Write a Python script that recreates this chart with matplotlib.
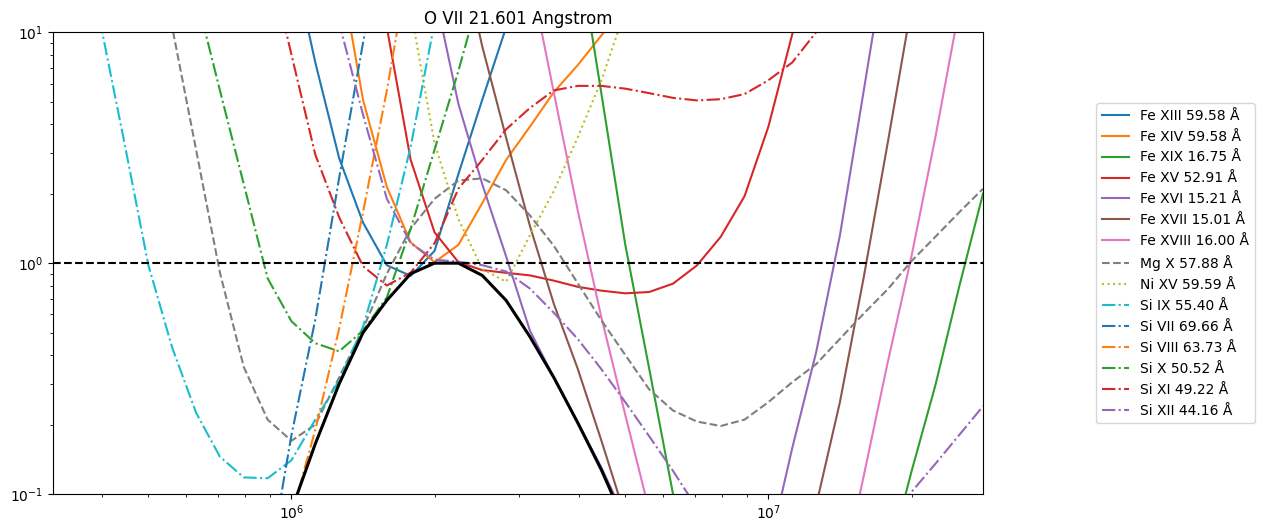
import numpy as np
import matplotlib
matplotlib.use("Agg")
import matplotlib.pyplot as plt

nan = np.nan

# log10 temperature grid
log_t = [5.50, 5.55, 5.60, 5.65, 5.70, 5.75, 5.80, 5.85, 5.90, 5.95,
         6.00, 6.05, 6.10, 6.15, 6.20, 6.25, 6.30, 6.35, 6.40, 6.45,
         6.50, 6.55, 6.60, 6.65, 6.70, 6.75, 6.80, 6.85, 6.90, 6.95,
         7.00, 7.05, 7.10, 7.15, 7.20, 7.25, 7.30, 7.35, 7.40, 7.45]

labels = ["Fe XIII 59.58 Å", "Fe XIV 59.58 Å", "Fe XIX 16.75 Å", "Fe XV 52.91 Å",
          "Fe XVI 15.21 Å", "Fe XVII 15.01 Å", "Fe XVIII 16.00 Å", "Mg X 57.88 Å",
          "Ni XV 59.59 Å", "Si IX 55.40 Å", "Si VII 69.66 Å", "Si VIII 63.73 Å",
          "Si X 50.52 Å", "Si XI 49.22 Å", "Si XII 44.16 Å"]

fe13 = [nan]*10 + [22, 7.4, 2.85, 1.5, 0.98, 0.88, 1.13, 2.43, 5.1, 10.5, 22] + [nan]*19
fe14 = [nan]*12 + [20, 5.1, 2.14, 1.23, 1.01, 1.2, 1.82, 2.8, 3.9, 5.5, 7.2, 9.7, 13] + [nan]*15
fe19 = [nan]*22 + [24, 5.4, 1.2, 0.35, 0.1, 0.03] + [nan]*7 + [0.05, 0.125, 0.295, 0.79, 2.0]
fe15 = [nan]*13 + [32, 10.5, 2.8, 1.36, 1.01, 0.933, 0.908, 0.885, 0.84, 0.79, 0.76, 0.74,
                   0.75, 0.815, 0.977, 1.3, 1.95, 3.9, 9.8, 25] + [nan]*7
fe16 = [nan]*16 + [15, 4.9, 2.2, 1.07, 0.51, 0.32, 0.205, 0.13, 0.078] + [nan]*5 + \
       [0.056, 0.158, 0.41, 1.32, 5.6, 24] + [nan]*4
fe17 = [nan]*17 + [25, 8.7, 3.5, 1.45, 0.667, 0.35, 0.17, 0.08] + [nan]*7 + \
       [0.089, 0.25, 0.87, 3.3, 13] + [nan]*3
fe18 = [nan]*20 + [18, 5.5, 1.7, 0.58, 0.22, 0.085] + [nan]*7 + \
       [0.04, 0.12, 0.37, 1.07, 3.5, 12.6, nan]
mg10 = [nan]*4 + [35, 10.5, 3.1, 0.91, 0.355, 0.21, 0.17, 0.2, 0.32, 0.52, 0.9, 1.41, 1.9,
                  2.28, 2.33, 2.07, 1.61, 1.19, 0.82, 0.565, 0.40, 0.284, 0.23, 0.206, 0.197,
                  0.21, 0.25, 0.305, 0.365, 0.47, 0.605, 0.77, 1.02, 1.3, 1.66, 2.1]
ni15 = [nan]*14 + [40, 12.5, 3.3, 1.55, 0.945, 0.83, 1.32, 2.05, 3.5, 6.2, 12.5] + [nan]*15
si9 = [nan, 30, 10.8, 3.3, 0.98, 0.43, 0.225, 0.145, 0.118, 0.117, 0.14, 0.21, 0.31, 0.53,
       1.2, 3.2, 11, 40] + [nan]*22
si7 = [nan]*9 + [0.045, 0.18, 0.57, 2.34, 9.0, 30] + [nan]*25
si8 = [nan]*9 + [0.02, 0.08, 0.19, 0.52, 1.66, 5.6, 22] + [nan]*24
si10 = [nan]*5 + [40, 14.5, 5.6, 2.2, 0.86, 0.56, 0.45, 0.415, 0.51, 0.71, 1.41, 3.1, 6.8, 16] + [nan]*21
si11 = [nan]*9 + [22, 8.0, 2.95, 1.58, 0.97, 0.80, 0.91, 1.22, 2.1, 2.8, 3.8, 4.7, 5.6, 5.86,
                  5.86, 5.7, 5.45, 5.2, 5.07, 5.13, 5.4, 6.2, 7.4, 10, 13.5] + [nan]*6
si12 = [nan]*11 + [30, 11, 4.4, 1.9, 1.22, 1.035, 1.015, 0.98, 0.92, 0.776, 0.61, 0.47, 0.347,
                   0.25, 0.178, 0.126, 0.087] + [nan]*7 + [0.076, 0.102, 0.135, 0.18, 0.24]
o7_norm = [nan]*9 + [0.04, 0.085, 0.165, 0.30, 0.50, 0.69, 0.90, 1.0, 1.0, 0.885, 0.69, 0.48,
                     0.32, 0.204, 0.127, 0.074, 0.05] + [nan]*14

series = [fe13, fe14, fe19, fe15, fe16, fe17, fe18, mg10, ni15,
          si9, si7, si8, si10, si11, si12]
colors = ["C0", "C1", "C2", "C3", "C4", "C5", "C6", "C7", "C8",
          "C9", "C0", "C1", "C2", "C3", "C4"]
styles = ["-"] * 7 + ["--", ":"] + ["-."] * 6

temps = 10 ** np.array(log_t)

fig = plt.figure(figsize=(12.64, 5.32), dpi=100)
ax = fig.add_axes([53 / 1264, 1 - 494 / 532, 930 / 1264, (494 - 32.3) / 532])

for vals, lab, c, ls in zip(series, labels, colors, styles):
    ax.plot(temps, np.array(vals, dtype=float), color=c, linestyle=ls, label=lab)

ax.plot(temps, np.array(o7_norm, dtype=float), color="k", lw=2.2)
ax.axhline(1.0, color="k", linestyle="--", lw=1.5)

ax.set_xscale("log")
ax.set_yscale("log")
ax.set_xlim(10 ** 5.5, 10 ** 7.45)
ax.set_ylim(0.1, 10)
ax.set_title("O VII 21.601 Angstrom")
ax.legend(loc="center left", bbox_to_anchor=(1.114, 0.5), fontsize=10)

fig.savefig("out.png", dpi=100)
